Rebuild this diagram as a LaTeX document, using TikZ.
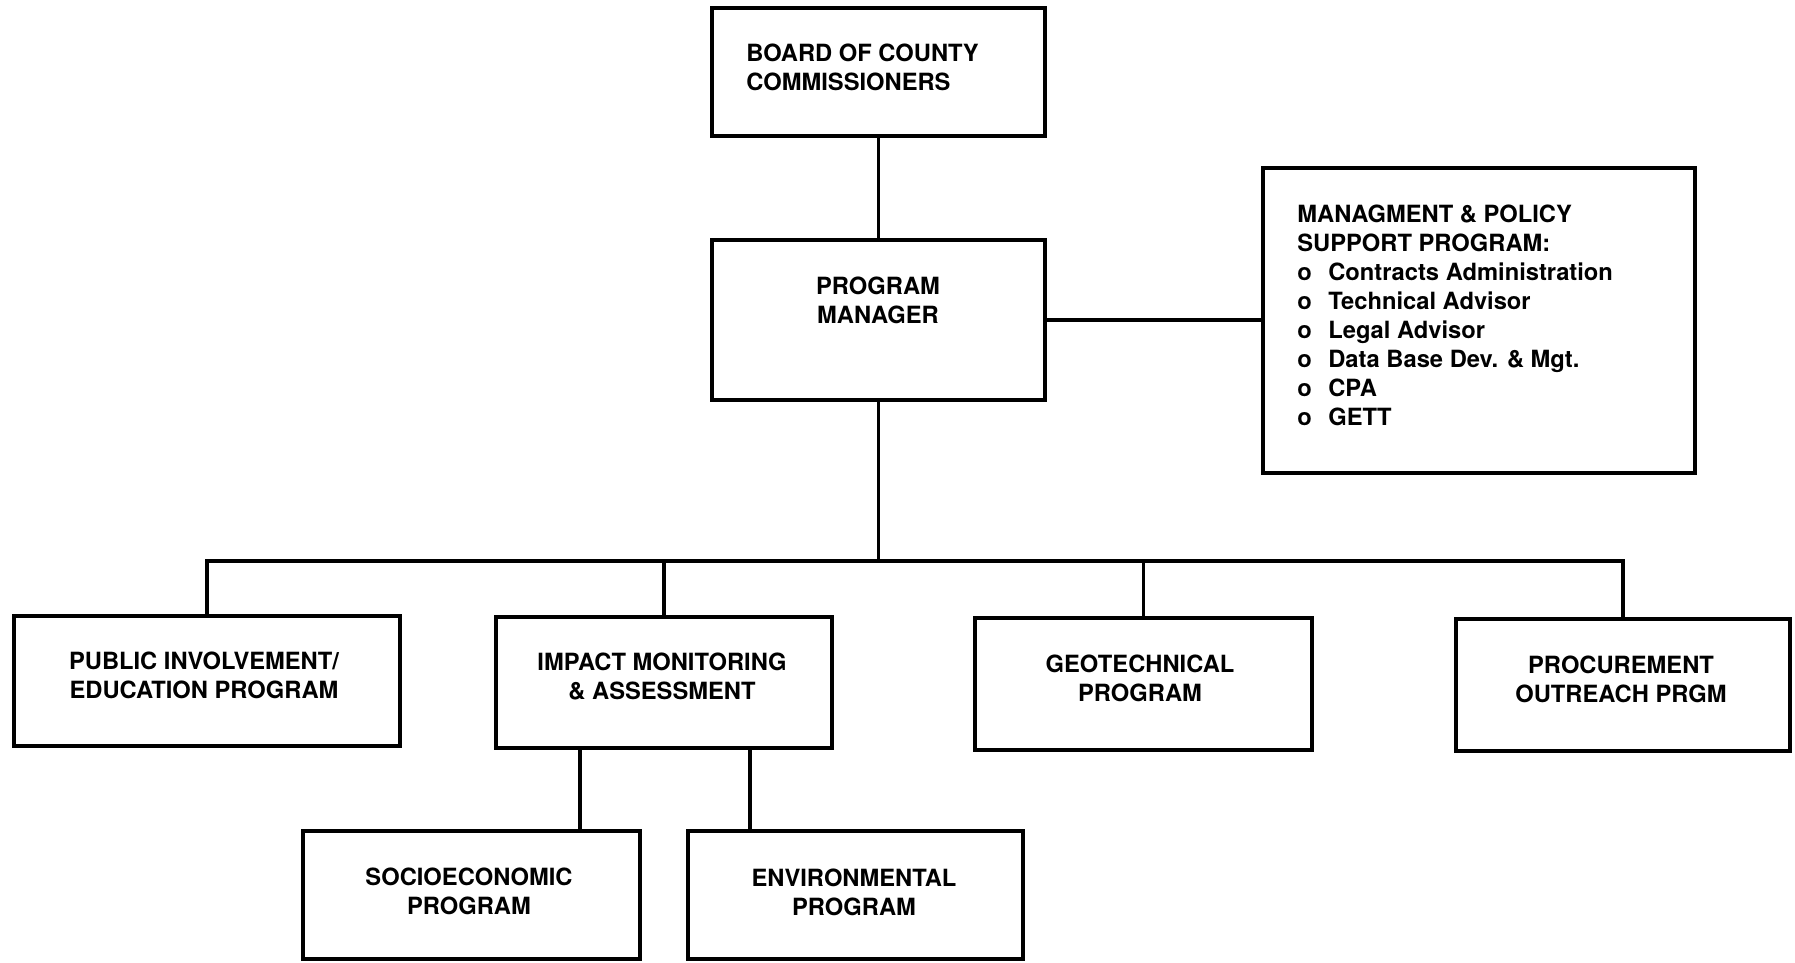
\documentclass[tikz,border=0pt]{standalone}
\usepackage{fontspec}
\setmainfont{TeX Gyre Heros}
\usepackage{tikz}
\newcommand{\bul}[1]{\makebox[0.62cm][l]{o}#1}

\begin{document}
\begin{tikzpicture}[
  box/.style={draw, line width=2.4pt, rectangle, inner sep=0pt},
  lbl/.style={font=\bfseries\fontsize{13.5}{16.5}\selectfont, align=center, inner sep=0pt},
  link/.style={line width=2.1pt}
]
\useasboundingbox[fill=white] (0,0) rectangle (35.9,19.24);

% Top of the chart
\node[box, minimum width=6.66cm, minimum height=2.56cm] (board) at (17.57,17.80) {};
\node[lbl, anchor=west, align=left] (board-t) at (14.92,17.90) {BOARD OF COUNTY\\COMMISSIONERS};
\node[box, minimum width=6.66cm, minimum height=3.20cm] (pm) at (17.57,12.84) {};
\node[lbl] (pm-t) at (17.56,13.24) {PROGRAM\\MANAGER};

% Support program on the side
\node[box, minimum width=8.64cm, minimum height=6.10cm] (mgmt) at (29.58,12.83) {};
\node[lbl, anchor=west, align=left] (mgmt-t) at (25.94,12.94) {MANAGMENT \& POLICY\\SUPPORT PROGRAM:\\
  \bul{Contracts Administration}\\\bul{Technical Advisor}\\\bul{Legal Advisor}\\
  \bul{Data Base Dev. \& Mgt.}\\\bul{CPA}\\\bul{GETT}};

% Program row
\node[box, minimum width=7.72cm, minimum height=2.60cm] (public) at (4.14,5.62) {};
\node[lbl] (public-t) at (4.08,5.74) {PUBLIC INVOLVEMENT/\\EDUCATION PROGRAM};
\node[box, minimum width=6.72cm, minimum height=2.62cm] (impact) at (13.28,5.59) {};
\node[lbl] (impact-t) at (13.24,5.72) {IMPACT MONITORING\\\& ASSESSMENT};
\node[box, minimum width=6.74cm, minimum height=2.64cm] (geo) at (22.87,5.56) {};
\node[lbl] (geo-t) at (22.80,5.68) {GEOTECHNICAL\\PROGRAM};
\node[box, minimum width=6.68cm, minimum height=2.64cm] (procure) at (32.46,5.54) {};
\node[lbl] (procure-t) at (32.42,5.66) {PROCUREMENT\\OUTREACH PRGM};

% Under impact monitoring
\node[box, minimum width=6.74cm, minimum height=2.56cm] (socio) at (9.43,1.34) {};
\node[lbl] (socio-t) at (9.38,1.42) {SOCIOECONOMIC\\PROGRAM};
\node[box, minimum width=6.70cm, minimum height=2.56cm] (env) at (17.11,1.34) {};
\node[lbl] (env-t) at (17.08,1.40) {ENVIRONMENTAL\\PROGRAM};

% Connectors
\coordinate (bus) at (17.57,8.02);
\draw[link] (board) -- (pm);
\draw[link] (pm.east) -- (pm.east -| mgmt.west);
\draw[link] (pm.south) -- (pm.south |- bus);
\draw[link] (public.north) |- (procure.north |- bus) -- (procure.north);
\draw[link] (impact.north) -- (impact.north |- bus);
\draw[link] (geo.north) -- (geo.north |- bus);
\draw[link] ([xshift=-1.68cm]impact.south) coordinate (a) -- (a |- socio.north);
\draw[link] ([xshift=1.72cm]impact.south) coordinate (b) -- (b |- env.north);
\end{tikzpicture}
\end{document}
